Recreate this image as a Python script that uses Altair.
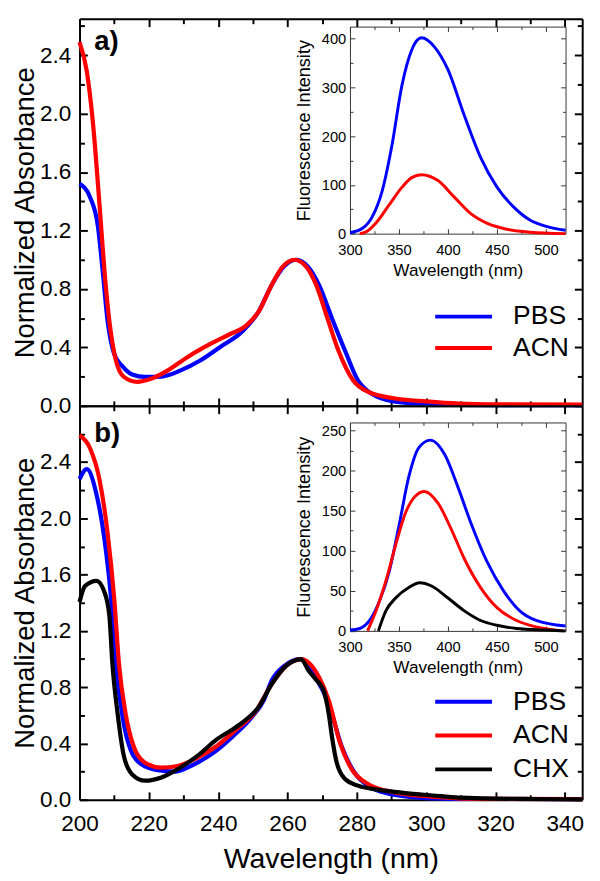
import altair as alt
import pandas as pd

FONT = "Liberation Sans"

# ---------------- data ----------------
# Panel a: absorbance
a_pbs_x = [200, 203, 205.3, 206.7, 208.1, 210, 212.4, 215.2, 218.9, 223.6, 229.2, 234.8, 240.4, 247,
           251.7, 255.4, 258.8, 262.5, 266, 269.1, 272.8, 276.6, 280.3, 284.1, 290.6, 300, 310, 320, 330, 345]
a_pbs_y = [1.52, 1.43, 1.23, 0.92, 0.58, 0.355, 0.27, 0.215, 0.198, 0.20, 0.243, 0.31, 0.40, 0.51,
           0.646, 0.826, 0.95, 1.0, 0.95, 0.826, 0.60, 0.377, 0.175, 0.085, 0.03, 0.012, 0.007, 0.005, 0.004, 0.004]
a_acn_x = [200, 202.1, 203.9, 205.8, 207.2, 208.6, 210.5, 212.8, 216.6, 220.8, 225.5, 231.1, 237.6, 243.3,
           247.9, 251.7, 255.4, 258.5, 262, 265.5, 268.3, 271.5, 274.7, 278.9, 283.1, 290.6, 300, 309.4, 320, 345]
a_acn_y = [2.49, 2.29, 1.93, 1.365, 0.92, 0.58, 0.31, 0.198, 0.164, 0.187, 0.243, 0.333, 0.422, 0.49,
           0.545, 0.646, 0.826, 0.95, 1.0, 0.95, 0.826, 0.60, 0.377, 0.175, 0.097, 0.052, 0.03, 0.015, 0.01, 0.008]

# Panel a inset: fluorescence
ia_pbs_x = [300, 312.8, 322.8, 332.9, 342.9, 352.9, 363, 373, 386.4, 399.9, 416.6, 433.4, 450.2, 466.9, 483.6, 500.4, 520]
ia_pbs_y = [2, 11, 35, 88, 182, 303, 377, 402, 383, 337, 243, 156, 95, 55, 28, 15, 7]
ia_acn_x = [310, 316, 326.1, 339.6, 353, 363, 373, 389.8, 406.5, 423.3, 440.1, 460.2, 483.6, 520]
ia_acn_y = [0, 3, 21, 58, 95, 115, 121, 109, 75, 41, 21, 9, 3, 0]

# Panel b: absorbance
b_pbs_x = [200, 202.1, 204.9, 207.2, 209.1, 210.5, 212.4, 214.7, 218, 222.6, 227.3, 232.9, 238.6, 244.2,
           249.8, 253.2, 255.4, 259, 263.5, 268.1, 271.9, 275.6, 279.4, 284.1, 290.6, 300, 310, 345]
b_pbs_y = [2.28, 2.35, 2.17, 1.85, 1.43, 0.96, 0.59, 0.357, 0.25, 0.21, 0.20, 0.25, 0.333, 0.45,
           0.59, 0.71, 0.846, 0.95, 1.0, 0.87, 0.68, 0.38, 0.19, 0.088, 0.035, 0.012, 0.006, 0.004]
b_acn_x = [200, 203, 205.8, 208.1, 210, 211.4, 213.3, 215.6, 218.9, 223.6, 228.3, 233.9, 239.5, 245.1,
           250.7, 255.4, 259.5, 263.9, 269.1, 271.9, 275.2, 278.5, 283.2, 290.6, 300, 309.4, 320, 345]
b_acn_y = [2.59, 2.50, 2.27, 1.895, 1.43, 0.96, 0.61, 0.38, 0.263, 0.228, 0.24, 0.298, 0.38, 0.497,
           0.625, 0.82, 0.95, 1.0, 0.87, 0.706, 0.40, 0.217, 0.112, 0.053, 0.025, 0.01, 0.006, 0.004]
b_chx_x = [200, 201.6, 204.9, 207.2, 208.6, 209.5, 211, 212.8, 215.2, 218.9, 223.6, 228.3, 233.9, 239.5,
           246, 251.7, 255.4, 259.5, 263.9, 266.1, 268.1, 270.4, 271.9, 272.8, 274.2, 276.6, 280.3, 285.9,
           293.4, 301.9, 309.4, 330, 345]
b_chx_y = [1.405, 1.52, 1.556, 1.475, 1.31, 0.96, 0.61, 0.31, 0.18, 0.135, 0.158, 0.217, 0.31, 0.427,
           0.531, 0.66, 0.82, 0.95, 1.0, 0.916, 0.857, 0.776, 0.61, 0.45, 0.263, 0.147, 0.10, 0.072,
           0.049, 0.03, 0.015, 0.005, 0.003]

# Panel b inset: fluorescence
ib_pbs_x = [300, 310, 320, 330, 340, 350, 360, 370, 382, 396.7, 410, 423.3, 440, 456.7, 473.3, 490, 520]
ib_pbs_y = [1, 3, 13, 37, 74, 131, 192, 228, 238, 220, 180, 135, 86, 50, 25, 13, 6]
ib_acn_x = [318, 326.6, 336.6, 346.6, 356.6, 366.6, 376, 390, 403.3, 416.7, 433.3, 450, 470, 490, 517]
ib_acn_y = [0, 25, 62, 107, 147, 168, 174, 159, 127, 90, 54, 29, 13, 5, 0]
ib_chx_x = [329, 336.6, 346.6, 360, 371, 383.3, 400, 416.7, 433.3, 450, 470, 500, 520]
ib_chx_y = [0, 25, 41, 54, 60, 56, 41, 25, 13, 7, 3, 1, 0]

SOLVENTS_A = ["PBS", "ACN"]
SOLVENTS_B = ["PBS", "ACN", "CHX"]
COLORS = {"PBS": "#0000ff", "ACN": "#ff0000", "CHX": "#000000"}

X_TICKS = list(range(200, 341, 10))
Y_TICKS = [round(0.2 * i, 1) for i in range(14)]
IX_TICKS = list(range(300, 501, 25))
IYA_TICKS = list(range(0, 401, 50))
IYB_TICKS = list(range(0, 251, 25))

# ---------------- layout constants ----------------
W = 513
HA, HB = 395, 402
IX_RANGE = [276, 496]


def long_df(series):
    rows = []
    for name, xs, ys in series:
        for x, y in zip(xs, ys):
            rows.append({"solvent": name, "wl": x, "v": y})
    return pd.DataFrame(rows)


def axis(orient, values, major, big, small, labels=True, label_fmt="datum.label", title=None,
         label_size=23, title_size=29, pad=17, title_pad=2, width=2.0,
         color="black", offset=None):
    kw = dict(orient=orient, values=values,
              tickSize=alt.ExprRef(f"({major}) ? {-big} : {-small}"),
              tickWidth=width, tickColor=color, domainColor=color, domainWidth=width,
              grid=False, labels=labels, title=title,
              labelPadding=pad, labelColor="black", titleColor="black",
              titleFontSize=title_size, titlePadding=title_pad, titleFontWeight="normal",
              labelFont=FONT, titleFont=FONT, labelFlush=False, labelOverlap=False)
    if labels:
        kw["labelExpr"] = f"({major}) ? {label_fmt} : ''"
        kw["labelFontSize"] = alt.ExprRef(f"({major}) ? {label_size} : 0")
    if offset is not None:
        kw["offset"] = offset
    return alt.Axis(**kw)


XMAJ = "datum.value % 20 == 0"
YMAJ = "abs(datum.value * 2.5 - round(datum.value * 2.5)) < 0.01"
YFMT = "format(datum.value, '.1f')"
IXMAJ = "datum.value % 50 == 0"


def ghost(df):
    # invisible carrier mark for the mirrored (top/right) tick axes
    return alt.Chart(df).mark_line(strokeWidth=0, strokeOpacity=0)


def panel(main_series, inset_series, names, H, ydom, iy_top, iy_range, iy_ticks, iy_step,
          label, label_y, show_x, legend_y, row_pad):
    color = alt.Color(
        "solvent:N",
        scale=alt.Scale(domain=names, range=[COLORS[n] for n in names]),
        legend=alt.Legend(orient="none", legendX=363, legendY=legend_y, title=None,
                          symbolType="M-4,0H4", symbolSize=210, symbolStrokeWidth=4,
                          symbolOffset=15.5, labelOffset=37, labelFontSize=27,
                          labelFont=FONT, labelColor="black", rowPadding=row_pad, padding=0),
        sort=names,
    )
    xs = alt.Scale(domain=[200, 345], nice=False, zero=False)
    ys = alt.Scale(domain=ydom, nice=False, zero=False)

    main = alt.Chart(long_df(main_series)).mark_line(strokeWidth=4.3, interpolate="monotone").encode(
        x=alt.X("wl:Q", scale=xs,
                axis=axis("bottom", X_TICKS, XMAJ, 8, 5, labels=show_x,
                          title="Wavelength (nm)" if show_x else None, pad=21, title_pad=10)),
        y=alt.Y("v:Q", scale=ys,
                axis=axis("left", Y_TICKS, YMAJ, 8, 5, label_fmt=YFMT,
                          title="Normalized Absorbance", title_size=28, pad=17, title_pad=0)),
        color=color,
    )
    mirror = ghost(pd.DataFrame({"wl": [200, 345], "v": ydom})).encode(
        x=alt.X("wl:Q", scale=xs, axis=axis("top", X_TICKS, XMAJ, 8, 5, labels=False)),
        y=alt.Y("v:Q", scale=ys, axis=axis("right", Y_TICKS, YMAJ, 8, 5, labels=False)),
    )

    ixs = alt.Scale(domain=[300, 520], range=IX_RANGE, nice=False, zero=False)
    iys = alt.Scale(domain=[0, iy_top], range=iy_range, nice=False, zero=False)
    iymaj = f"datum.value % {iy_step} == 0"
    inset = alt.Chart(long_df(inset_series)).mark_line(strokeWidth=3, interpolate="monotone").encode(
        x=alt.X("wl:Q", scale=ixs,
                axis=axis("bottom", IX_TICKS, IXMAJ, 5, 3, title="Wavelength (nm)",
                          label_size=15, title_size=17.5, pad=14.5, title_pad=4, width=1,
                          color="#333333", offset=iy_range[0] - H)),
        y=alt.Y("v:Q", scale=iys,
                axis=axis("left", iy_ticks, iymaj, 5, 3, title="Fluorescence Intensity",
                          label_size=15, title_size=18.5, pad=9.3, title_pad=8, width=1,
                          color="#333333", offset=-IX_RANGE[0])),
        color=color,
    )
    iframe = ghost(pd.DataFrame({"wl": [300, 520], "v": [0, iy_top]})).encode(
        x=alt.X("wl:Q", scale=ixs,
                axis=axis("top", IX_TICKS, IXMAJ, 5, 3, labels=False, width=1, color="#333333",
                          offset=-iy_range[1])),
        y=alt.Y("v:Q", scale=iys,
                axis=axis("right", iy_ticks, iymaj, 5, 3, labels=False, width=1, color="#333333",
                          offset=IX_RANGE[1] - W)),
    )
    text = alt.Chart(pd.DataFrame({"t": [label]})).mark_text(
        font=FONT, fontSize=28, fontWeight="bold", align="left", baseline="alphabetic", color="black"
    ).encode(text="t:N", x=alt.value(15), y=alt.value(label_y))

    return alt.layer(main, mirror, inset, iframe, text).resolve_scale(
        x="independent", y="independent", color="shared"
    ).properties(width=W, height=H)


panel_a = panel(
    [("PBS", a_pbs_x, a_pbs_y), ("ACN", a_acn_x, a_acn_y)],
    [("PBS", ia_pbs_x, ia_pbs_y), ("ACN", ia_acn_x, ia_acn_y)],
    SOLVENTS_A, HA, [0, 2.65], 425, [219.3, 8], IYA_TICKS, 100, "a)", 32, False, 290.5, 4,
)
panel_b = panel(
    [("PBS", b_pbs_x, b_pbs_y), ("ACN", b_acn_x, b_acn_y), ("CHX", b_chx_x, b_chx_y)],
    [("PBS", ib_pbs_x, ib_pbs_y), ("ACN", ib_acn_x, ib_acn_y), ("CHX", ib_chx_x, ib_chx_y)],
    SOLVENTS_B, HB, [0, 2.8], 260, [229.7, 17], IYB_TICKS, 50, "b)", 37, True, 288.5, 6.5,
)

chart = alt.vconcat(panel_a, panel_b, spacing=0, bounds="flush").resolve_scale(
    color="independent"
).properties(
    padding={"left": 3, "top": 0, "right": 0, "bottom": 0}, background="white"
).configure_view(stroke=None).configure(font=FONT)

chart.save("out.html", embed_options={"renderer": "svg", "actions": False})
